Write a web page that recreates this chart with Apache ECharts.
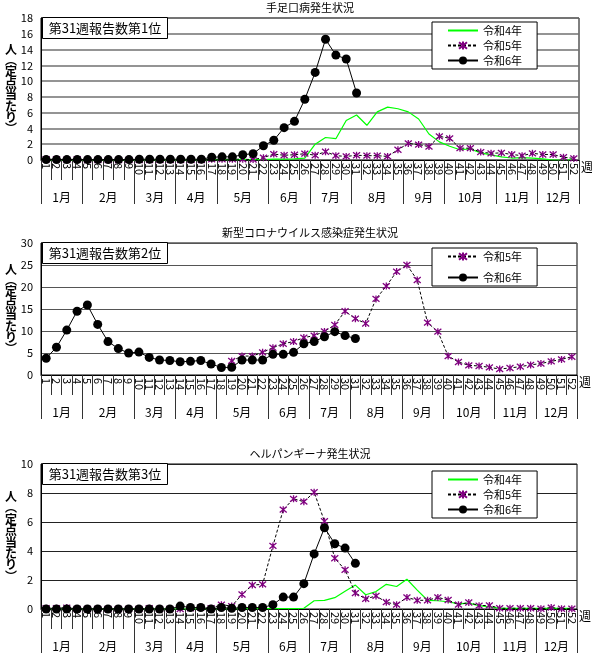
<!DOCTYPE html>
<html>
<head>
<meta charset="utf-8">
<script src="https://cdn.jsdelivr.net/npm/echarts@6/dist/echarts.min.js"></script>
<style>
html,body{margin:0;padding:0;background:#fff;}
#chart{width:592px;height:657px;}
</style>
</head>
<body>
<div id="chart"></div>
<script>
// Week numbers along the bottom axis
const weekLabels = ['1','2','3','4','5','6','7','8','9','10','11','12','13','14','15','16','17','18','19','20',
  '21','22','23','24','25','26','27','28','29','30','31','32','33','34','35','36','37','38','39','40',
  '41','42','43','44','45','46','47','48','49','50','51','52'];
// Month names and the week boundaries that separate them
const monthNames = ['1月','2月','3月','4月','5月','6月','7月','8月','9月','10月','11月','12月'];
const monthEdges = [0, 4, 9, 13, 17, 22, 26, 30, 35, 39, 44, 48, 52];
const yearNames = ['令和4年', '令和5年', '令和6年'];
const yName = ['人', '︵', '定', '点', '当', 'た', 'り', '︶'];

// 手足口病 (per sentinel site)
const hfmdR4 = [0,0,0,0,0,0,0,0,0,0,0,0,0,0,0,0,0.05,0.05,0.05,0.05,0.05,0.05,
  0.1,0.1,0.15,0.25,2.0,2.85,2.7,5.0,5.7,4.4,6.1,6.7,6.5,6.1,5.2,3.3,2.3,1.75,1.3,1.4,
  0.9,0.65,0.4,0.25,0.3,0.25,0.15,0.0,0.0,0.05];
const hfmdR5 = [0.1,0.1,0.05,0.1,0,0,0,0,0,0,0,0,0,0,0,0,0.1,0.1,0.1,0.1,0.05,0.3,
  0.75,0.6,0.67,0.8,0.6,1.05,0.55,0.45,0.6,0.55,0.55,0.45,1.3,2.1,1.95,1.7,3.0,2.75,1.5,1.5,
  1.0,0.85,0.9,0.7,0.55,0.85,0.7,0.7,0.35,0.2];
const hfmdR6 = [0.05,0.05,0.05,0.05,0.05,0.05,0.05,0.05,0.05,0.1,0.1,0.1,0.1,0.1,0.1,0.1,
  0.35,0.4,0.4,0.67,0.8,1.8,2.5,4.1,4.9,7.7,11.1,15.3,13.3,12.8,8.5];

// 新型コロナウイルス感染症
const covidR5 = [null,null,null,null,null,null,null,null,null,null,null,null,null,null,null,null,null,null,
  3.2,4.3,4.3,5.15,6.2,7.1,7.6,8.5,8.95,9.9,11.4,14.5,12.8,11.7,17.3,20.2,23.5,25.0,21.6,11.9,
  9.85,4.3,2.95,2.2,2.05,1.75,1.35,1.6,1.9,2.3,2.6,3.1,3.55,4.15];
const covidR6 = [3.8,6.3,10.2,14.5,15.9,11.5,7.6,6.0,5.0,5.2,4.0,3.4,3.3,3.0,3.1,3.3,2.5,1.7,1.75,
  3.4,3.4,3.4,4.7,4.7,5.15,7.1,7.6,8.7,9.85,8.95,8.3];

// ヘルパンギーナ
const herpR4 = [0,0,0,0,0,0,0,0,0,0,0,0,0,0,0,0,0,0,0,0.03,0.03,0.03,0.03,0.03,0.03,
  0.05,0.57,0.6,0.78,1.22,1.65,0.98,1.2,1.7,1.55,2.05,1.3,0.6,0.57,0.5,0.35,0.4,
  0.23,0.15,0.05,0.05,0.05,0.05,0.05,0.05,0.05,0.05];
const herpR5 = [0.05,0.05,0.1,0,0,0,0,0,0,0,0.05,0,0,0,0.05,0.1,0.05,
  0.3,0.2,1.0,1.65,1.7,4.35,6.85,7.6,7.4,8.05,6.05,3.5,2.7,1.1,0.7,0.9,0.47,0.3,0.8,0.6,
  0.6,0.8,0.62,0.3,0.45,0.23,0.25,0.05,0.05,0.05,0.05,0.02,0.1,0.02,0.02];
const herpR6 = [0,0,0,0,0,0,0,0,0,0,0,0,0,0.2,0.1,0.1,0.0,0.1,0.05,0.1,0.1,0.1,0.3,0.82,0.82,
  1.75,3.8,5.6,4.5,4.2,3.15];

const FONT = '"Noto Sans CJK JP", "Noto Sans", sans-serif';
const monthMids = monthNames.map((m, i) => (monthEdges[i] + monthEdges[i + 1]) / 2);
const asterisk = 'path://M0,0L10,10M10,0L0,10M5,-1L5,11';

const panels = [
  { title: '手足口病発生状況', rank: '第31週報告数第1位', top: 18, height: 142, width: 538, max: 18, interval: 2,
    r4: hfmdR4, r5: hfmdR5, r6: hfmdR6, legendTop: 22, legendGap: 4, gridColor: '#707070', gridWidth: 1.5 },
  { title: '新型コロナウイルス感染症発生状況', rank: '第31週報告数第2位', top: 243, height: 132, width: 536, max: 30, interval: 5,
    r4: null, r5: covidR5, r6: covidR6, legendTop: 248, legendGap: 10, gridColor: '#555', gridWidth: 1.2 },
  { title: 'ヘルパンギーナ発生状況', rank: '第31週報告数第3位', top: 464, height: 145, width: 536, max: 10, interval: 2,
    r4: herpR4, r5: herpR5, r6: herpR6, legendTop: 471, legendGap: 4, gridColor: '#222', gridWidth: 1 }
];

const grid = [], xAxis = [], yAxis = [], series = [], legend = [], graphic = [];

panels.forEach((p, i) => {
  grid.push({ left: 41, top: p.top, width: p.width, height: p.height, show: true,
    borderColor: '#000', borderWidth: 1, containLabel: false });

  // week axis
  xAxis[i] = {
    type: 'category', gridIndex: i, data: weekLabels, boundaryGap: true, position: 'bottom',
    axisLine: { lineStyle: { color: '#000', width: 1 } },
    axisTick: { show: true, interval: 0, length: 20, lineStyle: { color: '#333' } },
    axisLabel: { interval: 0, rotate: -90, margin: 3, fontSize: 11, color: '#000', fontFamily: FONT },
    splitLine: { show: false }
  };
  // month axis
  xAxis[i + 3] = {
    type: 'value', gridIndex: i, min: 0, max: 52, position: 'bottom',
    axisLine: { show: false },
    axisTick: { show: true, customValues: monthEdges, length: 44, lineStyle: { color: '#333' } },
    axisLabel: { customValues: monthMids, margin: 31, fontSize: 12, color: '#000', fontFamily: FONT,
      formatter: v => monthNames[monthMids.indexOf(v)] || '' },
    splitLine: { show: false }
  };
  yAxis.push({
    type: 'value', gridIndex: i, min: 0, max: p.max, interval: p.interval,
    axisLine: { show: true, lineStyle: { color: '#000' } },
    axisTick: { show: false },
    axisLabel: { fontSize: 11, color: '#000', margin: 8, fontFamily: FONT },
    splitLine: { show: true, lineStyle: { color: p.gridColor, width: p.gridWidth } }
  });

  const names = [];
  if (p.r4) {
    names.push({ name: yearNames[0], itemStyle: { opacity: 0 } });
    series.push({ name: yearNames[0], type: 'line', xAxisIndex: i, yAxisIndex: i, data: p.r4,
      symbol: 'none', lineStyle: { color: '#00ff00', width: 1.2 }, itemStyle: { color: '#00ff00' }, z: 2 });
  }
  names.push(yearNames[1]);
  series.push({ name: yearNames[1], type: 'line', xAxisIndex: i, yAxisIndex: i, data: p.r5,
    symbol: asterisk, symbolSize: 7, showAllSymbol: true, connectNulls: false,
    lineStyle: { color: '#000', width: 1, type: [3, 2] },
    itemStyle: { color: '#800080', borderColor: '#800080', borderWidth: 1.3 }, z: 3 });
  names.push(yearNames[2]);
  series.push({ name: yearNames[2], type: 'line', xAxisIndex: i, yAxisIndex: i, data: p.r6,
    symbol: 'circle', symbolSize: 9, showAllSymbol: true,
    lineStyle: { color: '#000', width: 1 }, itemStyle: { color: '#000' }, z: 4 });

  legend.push({
    data: names, left: 432, top: p.legendTop, orient: 'vertical',
    backgroundColor: '#fff', borderColor: '#000', borderWidth: 1,
    padding: [3, 15, 3, 15], itemGap: p.legendGap, itemWidth: 30, itemHeight: 10,
    selectedMode: false,
    textStyle: { fontSize: 11, color: '#000', fontFamily: FONT }
  });

  // chart title
  graphic.push({ type: 'text', x: 310, y: p.top - 16, z: 100,
    style: { text: p.title, font: '11px ' + FONT, fill: '#000', align: 'center', verticalAlign: 'top' } });
  // ranking box
  graphic.push({ type: 'group', x: 42, y: p.top, z: 100, children: [
    { type: 'rect', shape: { x: 0.5, y: -0.5, width: 125, height: 21 },
      style: { fill: '#fff', stroke: '#000', lineWidth: 1 }, z: 100 },
    { type: 'text', x: 63, y: 10.5, z: 101,
      style: { text: p.rank, font: '13px ' + FONT, fill: '#000', align: 'center', verticalAlign: 'middle' } }
  ] });
  // y-axis name, one character per row
  yName.forEach((ch, k) => {
    graphic.push({ type: 'text', x: 11, y: p.top + p.height / 2 - 40 + k * 11.4, z: 100,
      style: { text: ch, font: 'bold 12px ' + FONT, fill: '#000', align: 'center', verticalAlign: 'middle' } });
  });
  // week unit
  graphic.push({ type: 'text', x: 41 + p.width + 8, y: p.top + p.height + 7, z: 100,
    style: { text: '週', font: '12px ' + FONT, fill: '#000', align: 'center', verticalAlign: 'middle' } });
});

const chart = echarts.init(document.getElementById('chart'), null, { renderer: 'canvas' });
chart.setOption({
  animation: false,
  backgroundColor: '#fff',
  textStyle: { fontFamily: FONT },
  grid, xAxis, yAxis, series, legend, graphic
});
</script>
</body>
</html>
